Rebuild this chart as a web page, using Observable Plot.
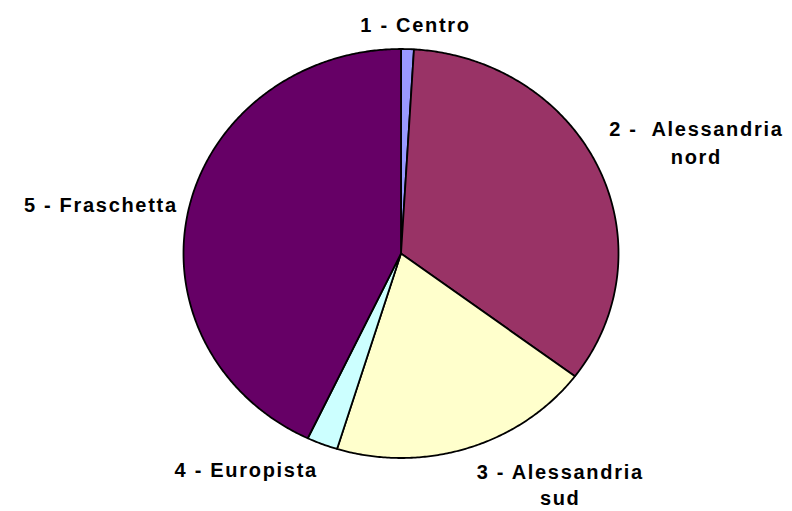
<!DOCTYPE html>
<html>
<head>
<meta charset="utf-8">
<script src="https://cdn.jsdelivr.net/npm/d3@7"></script>
<script src="https://cdn.jsdelivr.net/npm/@observablehq/plot@0.6"></script>
<style>
  html, body { margin: 0; padding: 0; background: #fff; }
  #chart svg text { letter-spacing: 1.7px; }
</style>
</head>
<body>
<div id="chart"></div>
<script>
// Data (share of total, %)
const categories = ["1 - Centro", "2 -  Alessandria\nnord", "3 - Alessandria\nsud", "4 - Europista", "5 - Fraschetta"];
const values = [0.95, 34.3, 19.5, 2.3, 42.95];
const colors = ["#9999FF", "#993366", "#FFFFCC", "#CCFFFF", "#660066"];

// Label placement (pixel nudges from the slice's mid-angle on the rim)
const labelLayout = [
  {dx: 8, dy: -17, lh: 1.4},
  {dx: 98, dy: -4, lh: 1.4},
  {dx: 92, dy: 57, lh: 1.3},
  {dx: -76, dy: 33, lh: 1.4},
  {dx: -88, dy: 3, lh: 1.4}
];

const total = d3.sum(values);
let acc = 0;
const slices = values.map((v, i) => {
  const a0 = acc / total * 2 * Math.PI;
  acc += v;
  const a1 = acc / total * 2 * Math.PI;
  return {name: categories[i], color: colors[i], a0, a1, mid: (a0 + a1) / 2};
});

const points = [];
for (const s of slices) {
  points.push({name: s.name, color: s.color, x: 0, y: 0});
  const n = Math.max(2, Math.ceil((s.a1 - s.a0) / (Math.PI / 360)));
  for (let k = 0; k <= n; k++) {
    const a = s.a0 + (s.a1 - s.a0) * k / n;
    points.push({name: s.name, color: s.color, x: Math.sin(a), y: Math.cos(a)});
  }
}

const labelMarks = slices.map((s, i) => Plot.text([s], {
  x: d => Math.sin(d.mid),
  y: d => Math.cos(d.mid),
  text: "name",
  dx: labelLayout[i].dx,
  dy: labelLayout[i].dy,
  textAnchor: "middle",
  lineAnchor: "bottom",
  lineHeight: labelLayout[i].lh,
  fontSize: 20,
  fontWeight: "bold",
  fill: "black"
}));

const chart = Plot.plot({
  width: 792,
  height: 511,
  margin: 0,
  style: {fontFamily: "'Liberation Sans', Arial, sans-serif", background: "white"},
  x: {domain: [-1, 1], range: [183, 618], axis: null},
  y: {domain: [-1, 1], range: [457.5, 48.5], axis: null},
  color: {type: "identity"},
  marks: [
    Plot.line(points, {
      x: "x", y: "y", z: "name",
      fill: "color",
      stroke: "black",
      strokeWidth: 1.8,
      strokeLinejoin: "round",
      curve: "linear-closed"
    }),
    ...labelMarks
  ]
});
document.getElementById("chart").appendChild(chart);
</script>
</body>
</html>
